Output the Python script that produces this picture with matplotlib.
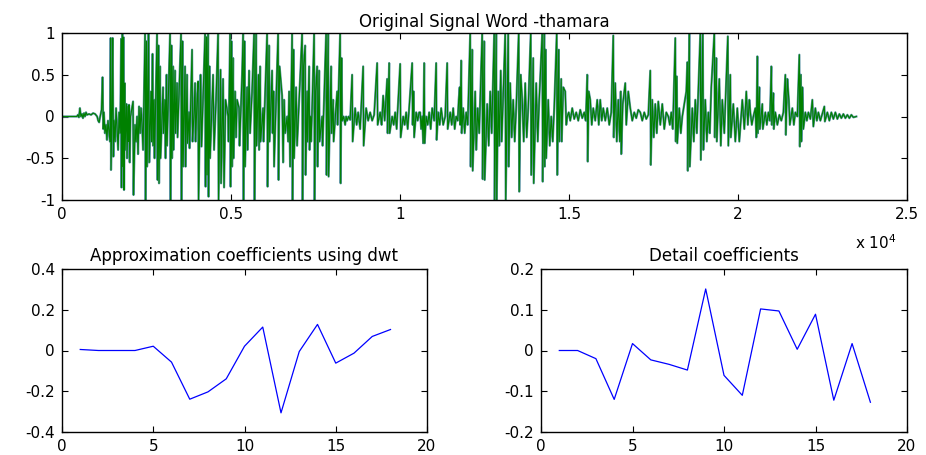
import matplotlib
matplotlib.use("Agg")
import matplotlib.pyplot as plt
import matplotlib.patheffects as pe

plt.rcParams['font.family'] = ['DejaVu Sans']

# Speech waveform of the word "thamara": sample index and amplitude
wave_t = [
    0, 440, 470, 500, 530, 560, 590, 620, 650, 680, 710, 740, 800, 860, 920, 980, 1040, 1070, 1100, 1120,
    1170, 1200, 1220, 1240, 1270, 1300, 1330, 1360, 1420, 1440, 1450, 1480, 1500, 1520, 1540, 1570, 1600, 1630, 1660, 1690, 1720,
    1750, 1760, 1785, 1800, 1820, 1835, 1856, 1865,
    1909, 1924, 1954, 1968, 1983, 2004, 2028, 2102, 2116,
    2161, 2190, 2220, 2250, 2279, 2309, 2338, 2368, 2398,
    2457, 2475, 2501, 2516, 2560, 2581,
    2634, 2649, 2679, 2694, 2723, 2738,
    2812, 2827, 2856, 2871, 2901, 2916,
    2990, 3004, 3049, 3064, 3093, 3108,
    3197, 3212, 3241, 3256, 3286, 3300,
    3345, 3360, 3404, 3419, 3448,
    3522, 3537, 3567, 3582,
    3641, 3656, 3700, 3715, 3759, 3774,
    3848, 3863, 3907, 3937, 3952, 3996, 4026, 4040,
    4100, 4129,
    4233, 4248, 4277, 4292, 4322, 4336, 4366, 4381,
    4470, 4499, 4558, 4618, 4632, 4692, 4706,
    4766, 4795, 4840, 4914, 4928,
    4973, 4988, 5017, 5032, 5062, 5076,
    5121, 5150, 5180, 5239, 5254,
    5328, 5358, 5372, 5402, 5417,
    5476, 5491, 5535, 5565,
    5624, 5683, 5698, 5742, 5757,
    5816, 5831, 5861, 5876, 5950, 5964,
    6068, 6083, 6127, 6142,
    6216, 6231, 6260, 6275,
    6394, 6408, 6438,
    6512, 6542, 6571, 6601,
    6660, 6690, 6719, 6749,
    6808, 6823, 6852, 6867, 6926, 6956,
    7104, 7119, 7148,
    7193, 7208, 7252, 7267, 7311, 7326,
    7356, 7370, 7400,
    7459, 7474, 7504,
    7548, 7563, 7607, 7622,
    7696, 7711,
    7814, 7829, 7874, 7888,
    7962, 7977, 8022, 8036,
    8140, 8155,
    8229, 8244, 8273, 8288,
    8332, 8377, 8406, 8436, 8480, 8525,
    8584, 8599,
    8673, 8717, 8762, 8821,
    8910, 8924,
    8998, 9058, 9117, 9176, 9235,
    9324, 9339,
    9413, 9457, 9502, 9546,
    9620, 9635, 9679, 9694,
    9768, 9813, 9857, 9901,
    10005, 10020,
    10094, 10138, 10182, 10227, 10271,
    10360, 10375, 10404, 10419,
    10478, 10523, 10567,
    10597, 10626, 10656, 10686,
    10715, 10730,
    10774, 10819, 10863, 10908, 10952, 11011,
    11070, 11085,
    11130, 11174, 11218, 11278, 11337,
    11396, 11411,
    11485, 11530, 11574, 11618, 11662, 11707, 11737,
    11766, 11781, 11810, 11825,
    11870, 11914, 11958, 12003,
    12077, 12092, 12136, 12151,
    12225, 12254, 12299, 12343,
    12432, 12447, 12491, 12506,
    12580, 12624, 12669, 12713,
    12787, 12802, 12846, 12861,
    12906, 12935, 12980, 13009,
    13113, 13128, 13202, 13217,
    13261, 13305, 13350, 13394, 13438,
    13512, 13527, 13572,
    13616, 13660, 13705, 13749, 13794,
    13868, 13882, 13942, 13956,
    14030, 14075, 14119,
    14208, 14223, 14267, 14282, 14311, 14326,
    14386, 14430, 14474, 14519, 14563,
    14637, 14652, 14696, 14711, 14770, 14785, 14830,
    14889, 14918, 14948,
    14992, 15037, 15096, 15155, 15214, 15274, 15333, 15392, 15451, 15496,
    15540, 15555, 15585,
    15629, 15673, 15718, 15777, 15836, 15880, 15925, 15969,
    16014, 16073, 16132, 16191, 16250,
    16310, 16324,
    16369, 16413, 16458, 16502, 16532, 16546, 16591,
    16665, 16695, 16754,
    16813, 16872, 16931, 16990, 17050,
    17109, 17168, 17227, 17286, 17346,
    17405, 17420,
    17464, 17508, 17553, 17597, 17642, 17701, 17760, 17819, 17878,
    17938, 17982, 18026, 18071,
    18145, 18160, 18190, 18204,
    18263, 18308, 18352,
    18470, 18500, 18515, 18559, 18574,
    18648, 18692, 18737, 18782,
    18885, 18900, 18959, 18974,
    19033, 19077, 19122, 19166, 19210,
    19299, 19314, 19358, 19373,
    19447, 19491, 19536, 19595,
    19699, 19714, 19773, 19788,
    19862, 19921, 19980, 20039,
    20128, 20187, 20246, 20291, 20335,
    20365, 20409, 20454,
    20513, 20542,
    20572, 20587, 20631, 20646,
    20720, 20735,
    20809, 20853, 20898, 20942,
    20986, 21001, 21046, 21060,
    21105, 21164, 21223, 21282, 21342,
    21401, 21416, 21460,
    21504, 21534,
    21608, 21652, 21697,
    21756, 21815, 21830, 21860, 21874,
    21904, 21934,
    21993, 22037, 22082, 22141,
    22200, 22230,
    22289, 22333, 22378, 22437,
    22555, 22570,
    22644, 22703, 22762, 22822, 22881, 22940,
    22999, 23058, 23118, 23177, 23236, 23295, 23354, 23414, 23502,
]
wave_v = [
    0.0, 0.0, 0.02, -0.01, 0.1, 0.0, 0.03, -0.02, 0.04, 0.0, 0.05, 0.02, 0.03, 0.02, 0.04, 0.03, 0.0, -0.05, -0.07, -0.02,
    0.08, 0.47, -0.15, 0.05, -0.2, -0.1, -0.28, -0.05, -0.3, 0.94, -0.64, 0.1, 0.94, -0.48, -0.05, -0.3, 0.1, -0.15, -0.4, 0.05, -0.2,
    0.93, -0.85, 1.0, -0.6, 0.95, -0.88, 0.4, -0.4,
    0.15, -0.5, 0.12, -0.3, 0.14, -0.55, 0.0, 0.18, -0.94,
    -0.1, -0.3, 0.0, -0.45, 0.12, -0.2, 0.1, -0.1, -0.4,
    1.0, -1.0, 0.9, -0.6, 1.0, -0.55,
    0.3, -0.3, 0.75, -0.35, 0.2, -0.5,
    1.0, -0.76, 0.85, -0.8, 0.6, -0.5,
    0.35, -0.2, 0.2, -0.5, 0.5, -0.35,
    1.0, -1.0, 0.85, -0.5, 0.6, -0.4,
    0.55, -0.2, 0.4, -0.25, 0.1,
    1.0, -1.0, 0.9, -0.6,
    0.6, -0.6, 0.5, -0.32, 0.05, -0.38,
    0.8, -0.3, 0.05, 0.4, -0.3, 0.2, 0.42, -1.0,
    0.5, -0.36,
    1.0, -0.84, 0.95, -0.7, 1.0, -0.96, 0.6, -0.5,
    0.5, -0.4, 0.2, 1.0, -1.0, 0.56, -0.8,
    0.45, -0.85, 0.2, 0.0, -0.3,
    1.0, -0.84, 0.9, -0.6, 0.7, -0.5,
    0.3, -0.25, 0.2, 0.1, -0.35,
    0.5, 1.0, -1.0, 0.9, -0.6,
    0.35, -0.4, 0.55, -0.2,
    0.3, 1.0, -1.0, 1.0, -0.35,
    0.5, -0.4, 0.6, -0.3, 0.1, -0.3,
    1.0, -0.84, 0.85, -0.3,
    0.55, -0.2, 0.3, -0.6,
    1.0, -0.76, 0.6,
    0.25, -0.55, 0.2, -0.2,
    0.0, -0.3, 0.3, -0.6,
    1.0, -1.0, 0.8, -0.5, 0.35, -0.35,
    1.0, -1.0, 0.6,
    0.85, -0.7, 0.3, -0.3, 0.6, -0.4,
    0.0, -0.3, 0.1,
    1.0, -1.0, 0.3,
    0.6, -0.6, 0.55, -0.3,
    0.0, -0.35,
    1.0, -0.7, 1.0, -0.72,
    0.6, -0.2, 0.2, -0.3,
    0.3, -0.1,
    1.0, -0.8, 0.7, -0.05,
    0.0, -0.1, 0.0, -0.05, 0.0, -0.04,
    0.5, -0.3,
    0.1, -0.1, 0.05, -0.15,
    0.6, -0.35,
    0.1, -0.05, 0.05, -0.05, 0.02,
    0.64, -0.1,
    0.05, -0.1, 0.25, -0.05,
    0.45, -0.2, 0.64, -0.2,
    0.0, -0.1, 0.05, -0.15,
    0.63, -0.25,
    0.0, -0.1, 0.05, -0.15, 0.1,
    0.64, -0.1, 0.3, -0.25,
    0.05, -0.05, 0.05,
    0.05, -0.15, 0.0, -0.32,
    0.64, -0.32,
    0.0, -0.1, 0.05, -0.15, 0.1, -0.05,
    0.64, -0.28,
    0.05, -0.1, 0.1, -0.1, 0.0,
    0.64, -0.15,
    0.05, -0.1, 0.1, -0.15, 0.0, -0.05, 0.2,
    0.35, -0.1, 0.67, -0.2,
    0.1, -0.2, 0.05, -0.1,
    1.0, -0.6, 0.8, -0.65,
    0.3, -0.4, 0.1, -0.2,
    1.0, -0.75, 0.9, -0.76,
    0.15, -0.35, 0.3, -0.2,
    1.0, -1.0, 1.0, -1.0,
    0.3, -0.35, 0.55, -0.3,
    1.0, -1.0, 1.0, -0.6,
    0.4, -0.25, 0.2, -0.3, 0.1,
    1.0, -0.9, 0.5,
    0.2, -0.3, 0.4, -0.25, 0.1,
    1.0, -0.7, 0.7, -0.8,
    0.4, -0.3, 0.2,
    1.0, -0.78, 1.0, -0.6, 0.8, -0.5,
    0.2, -0.35, 0.0, -0.3, 0.1,
    1.0, -0.7, 0.8, -0.3, 0.45, -0.3, 0.35,
    0.3, -0.1, 0.0,
    0.05, -0.05, 0.1, -0.03, 0.05, -0.05, 0.08, -0.02, 0.05, -0.05,
    0.5, -0.54, 0.3,
    0.2, -0.1, 0.1, -0.05, 0.2, -0.1, 0.2, -0.05,
    0.1, -0.05, 0.1, -0.1, 0.05,
    0.97, -0.25,
    0.4, -0.3, 0.2, -0.3, 0.3, -0.45, 0.15,
    0.4, -0.1, 0.3,
    0.1, -0.05, 0.05, -0.02, 0.08,
    0.05, -0.05, 0.05, -0.03, 0.02,
    0.55, -0.58,
    0.2, -0.25, 0.15, -0.2, 0.18, -0.1, 0.15, -0.15, 0.05,
    0.0, -0.1, 0.05, -0.15,
    0.94, -0.3, 0.48, -0.32,
    0.1, -0.2, 0.0,
    0.3, 0.65, -0.65, 1.0, -0.6,
    0.1, -0.3, 0.2, -0.2,
    1.0, -0.52, 1.0, -0.4,
    0.2, -0.3, 0.05, -0.2, 0.35,
    1.0, -0.25, 0.7, -0.3,
    0.45, -0.35, 0.2, -0.2,
    0.96, -0.35, 0.5, -0.25,
    0.15, -0.3, 0.1, -0.3,
    0.2, -0.15, 0.3, -0.1, 0.2,
    0.05, -0.1, 0.0,
    0.1, -0.25,
    0.72, -0.2, 0.35, -0.15,
    0.15, -0.15,
    0.05, -0.1, 0.05, -0.05,
    0.6, -0.1, 0.28, -0.15,
    0.05, -0.1, 0.02, -0.05, 0.05,
    0.5, -0.22, 0.45,
    0.2, -0.1,
    0.1, -0.1, 0.05,
    0.0, 0.74, -0.36, 0.5, -0.3,
    0.35, -0.15,
    0.05, -0.05, 0.05, -0.03,
    0.2, -0.12,
    0.1, -0.05, 0.05, -0.05,
    0.12, -0.06,
    0.05, -0.05, 0.05, -0.03, 0.05, -0.03,
    0.03, -0.02, 0.03, -0.02, 0.02, -0.02, 0.02, -0.01, 0.0,
]

# Level-decomposition coefficients
coef_idx = list(range(1, 19))
approx_coef = [0.005, 0.0, 0.0, 0.0, 0.021, -0.057, -0.239, -0.203, -0.139,
               0.021, 0.115, -0.306, -0.005, 0.128, -0.062, -0.013, 0.069, 0.103]
detail_coef = [0.0, 0.0, -0.02, -0.12, 0.017, -0.023, -0.034, -0.048, 0.151,
               -0.061, -0.11, 0.102, 0.097, 0.003, 0.089, -0.122, 0.017, -0.127]

sig_xticks = [0, 5000, 10000, 15000, 20000, 25000]
sig_xticklabels = ['0', '0.5', '1', '1.5', '2', '2.5']
sig_yticks = [-1, -0.5, 0, 0.5, 1]
sig_yticklabels = ['-1', '-0.5', '0', '0.5', '1']
coef_xticks = [0, 5, 10, 15, 20]
approx_yticks = [-0.4, -0.2, 0, 0.2, 0.4]
approx_yticklabels = ['-0.4', '-0.2', '0', '0.2', '0.4']
detail_yticks = [-0.2, -0.1, 0, 0.1, 0.2]
detail_yticklabels = ['-0.2', '-0.1', '0', '0.1', '0.2']

W, H = 926, 455
fig = plt.figure(figsize=(W / 100, H / 100), dpi=100)
fig.patch.set_facecolor('white')


def frac(x0, y0, x1, y1):
    return [x0 / W, 1 - y1 / H, (x1 - x0) / W, (y1 - y0) / H]


ax_sig = fig.add_axes(frac(62, 33, 907, 200))
ax_app = fig.add_axes(frac(62, 269, 427, 432))
ax_det = fig.add_axes(frac(541, 269, 907, 432))

TICK_FS = 11
TITLE_FS = 12

for ax in (ax_sig, ax_app, ax_det):
    for sp in ax.spines.values():
        sp.set_color('black')
        sp.set_linewidth(1.0)
    ax.tick_params(direction='in', length=4, width=0.8, top=True, right=True,
                   labelsize=TICK_FS, colors='black', pad=5)

# Original signal
ax_sig.plot(wave_t, wave_v, color='#008000', linewidth=0.8,
            path_effects=[pe.Stroke(linewidth=1.6, foreground='#5a93a2'), pe.Normal()])
ax_sig.set_xlim(0, 25000)
ax_sig.set_ylim(-1, 1)
ax_sig.set_xticks(sig_xticks)
ax_sig.set_xticklabels(sig_xticklabels)
ax_sig.set_yticks(sig_yticks)
ax_sig.set_yticklabels(sig_yticklabels)
ax_sig.set_title('Original Signal Word -thamara', fontsize=TITLE_FS, pad=4)
fig.text(876 / W, 1 - 243 / H, r'x 10$^4$', fontsize=TICK_FS, ha='center', va='center')

# Approximation coefficients
ax_app.plot(coef_idx, approx_coef, color='#0000ff', linewidth=0.9)
ax_app.set_xlim(0, 20)
ax_app.set_ylim(-0.4, 0.4)
ax_app.set_xticks(coef_xticks)
ax_app.set_yticks(approx_yticks)
ax_app.set_yticklabels(approx_yticklabels)
ax_app.set_title('Approximation coefficients using dwt', fontsize=TITLE_FS, pad=6)

# Detail coefficients
ax_det.plot(coef_idx, detail_coef, color='#0000ff', linewidth=0.9)
ax_det.set_xlim(0, 20)
ax_det.set_ylim(-0.2, 0.2)
ax_det.set_xticks(coef_xticks)
ax_det.set_yticks(detail_yticks)
ax_det.set_yticklabels(detail_yticklabels)
ax_det.set_title('Detail coefficients', fontsize=TITLE_FS, pad=6)

fig.savefig('out.png', dpi=100, facecolor='white')
